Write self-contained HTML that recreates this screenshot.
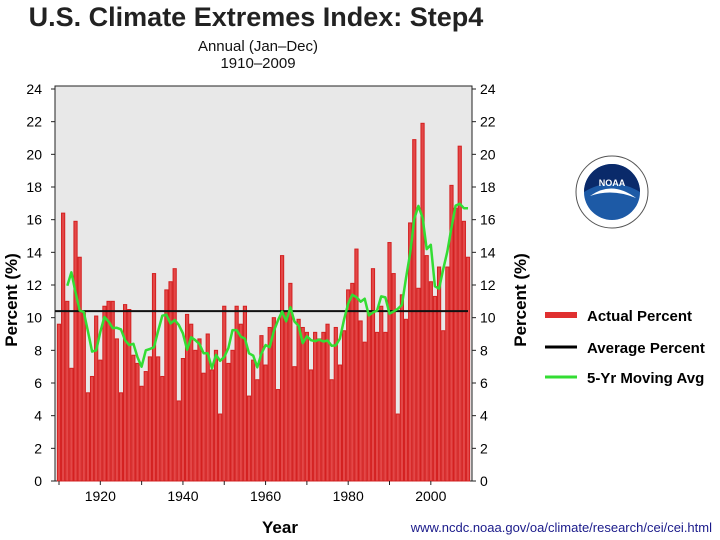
<!DOCTYPE html>
<html><head><meta charset="utf-8"><style>
body{margin:0;background:#fff;}
svg{display:block;font-family:"Liberation Sans",sans-serif;}
</style></head><body>
<svg id="chart" width="720" height="540" viewBox="0 0 720 540">
<text x="256" y="26" font-size="27" font-weight="bold" text-anchor="middle" fill="#222">U.S. Climate Extremes Index: Step4</text>
<text x="258" y="51" font-size="15" text-anchor="middle" fill="#111">Annual (Jan–Dec)</text>
<text x="258" y="68" font-size="15" text-anchor="middle" fill="#111">1910–2009</text>
<rect x="55" y="86" width="417" height="395" fill="#e8e8e8" stroke="#222" stroke-width="1"/>
<g id="bars"></g>
<g id="axes"></g>
<text transform="translate(17,300) rotate(-90)" font-size="17" font-weight="bold" text-anchor="middle">Percent (%)</text>
<text transform="translate(526,300) rotate(-90)" font-size="17" font-weight="bold" text-anchor="middle">Percent (%)</text>
<text x="280" y="533" font-size="17" font-weight="bold" text-anchor="middle">Year</text>
<g font-weight="600">
<g><rect x="545" y="312" width="32" height="6" fill="#e03030"/><text x="587" y="321" font-size="15">Actual Percent</text></g>
<g><line x1="545" y1="347" x2="577" y2="347" stroke="#000" stroke-width="3"/><text x="587" y="353" font-size="15">Average Percent</text></g>
<g><line x1="545" y1="377" x2="577" y2="377" stroke="#33dd33" stroke-width="3"/><text x="587" y="383" font-size="15">5-Yr Moving Avg</text></g>
</g>
<g>
<circle cx="612" cy="192" r="36" fill="#fff" stroke="#555" stroke-width="1"/>
<circle cx="612" cy="192" r="28" fill="#1d5aa6"/>
<path d="M584,192 A28,28 0 0,1 640,192 Q612,175 584,192Z" fill="#0a2a6a"/>
<path d="M590,196 Q612,180 636,198 Q612,188 590,196Z" fill="#fff"/>
<text x="612" y="186" font-size="9" font-weight="bold" fill="#fff" text-anchor="middle">NOAA</text>
</g>
<text x="712" y="532" font-size="13" text-anchor="end" fill="#1a1a8a">www.ncdc.noaa.gov/oa/climate/research/cei/cei.html</text>
</svg>
<script>
const years = [];
for (let y = 1910; y <= 2009; y++) years.push(y);
const actualPercent = [
9.6,16.4,11.0,6.9,15.9,13.7,10.3,5.4,6.4,10.1,
7.4,10.7,11.0,11.0,8.7,5.4,10.8,10.5,7.7,7.2,
5.8,6.7,7.6,12.7,7.6,6.4,11.7,12.2,13.0,4.9,
7.5,10.2,9.6,8.0,8.7,6.6,9.0,6.8,8.0,4.1,
10.7,7.2,8.0,10.7,9.6,10.7,5.2,7.4,6.2,8.9,
7.1,9.4,10.0,5.6,13.8,10.4,12.1,7.0,9.9,9.4,
9.1,6.8,9.1,8.7,9.1,9.6,6.2,9.4,7.1,9.2,
11.7,12.1,14.2,9.8,8.5,10.3,13.0,9.1,10.7,9.1,
14.6,12.7,4.1,11.4,9.9,15.8,20.9,11.8,21.9,13.8,
12.2,11.3,13.1,9.2,13.1,18.1,16.7,20.5,15.9,13.7];
const averagePercent = [10.4];
const yTicks = [0,2,4,6,8,10,12,14,16,18,20,22,24];
const xTicks = [1920,1940,1960,1980,2000];

const X0=55, X1=472, Y0=481, Y1=89;
const xs = y => 59 + (y-1910)*(468-59)/99;
const ys = v => Y0 - v*(Y0-Y1)/24;
const NS="http://www.w3.org/2000/svg";
function mk(tag, attrs, parent){const e=document.createElementNS(NS,tag);for(const k in attrs)e.setAttribute(k,attrs[k]);parent.appendChild(e);return e;}
const bars=document.getElementById('bars'), axes=document.getElementById('axes');
actualPercent.forEach((v,i)=>{
  const r=mk('rect',{x:xs(years[i])-1.6,y:ys(v),width:3.2,height:Y0-ys(v),fill:'#e34848',stroke:'#d42020','stroke-width':1},bars);
  
  
});
const avgLine=mk('line',{x1:xs(1910)-4,x2:xs(2009),y1:ys(averagePercent[0]),y2:ys(averagePercent[0]),stroke:'#111','stroke-width':2},bars);


let pts=[];
const n=actualPercent.length;
for(let i=2;i<n;i++){
  let s=0,c=0;for(let k=-2;k<=2;k++){if(i+k<n){s+=actualPercent[i+k];c++;}}
  pts.push(xs(years[i]).toFixed(1)+','+ys(s/c).toFixed(1));
}
const ma=mk('polyline',{points:pts.join(' '),fill:'none',stroke:'#33dd33','stroke-width':2.5,'stroke-linejoin':'round'},bars);


yTicks.forEach(t=>{
  const y=ys(t);
  mk('line',{x1:X0-4,x2:X0,y1:y,y2:y,stroke:'#222'},axes);
  mk('line',{x1:X1,x2:X1+4,y1:y,y2:y,stroke:'#222'},axes);
  const a=mk('text',{x:42,y:y+5,'font-size':14,'text-anchor':'end'},axes);a.textContent=t;
  
  
  const b=mk('text',{x:480,y:y+5,'font-size':14,'text-anchor':'start'},axes);b.textContent=t;
  
  
});
for(let yr=1910;yr<=2000;yr+=10){mk('line',{x1:xs(yr),x2:xs(yr),y1:Y0,y2:Y0+4,stroke:'#222'},axes);}
xTicks.forEach(t=>{
  const e=mk('text',{x:xs(t),y:Y0+20,'font-size':14,'text-anchor':'middle'},axes);e.textContent=t;
  
  
});
</script>
</body></html>
